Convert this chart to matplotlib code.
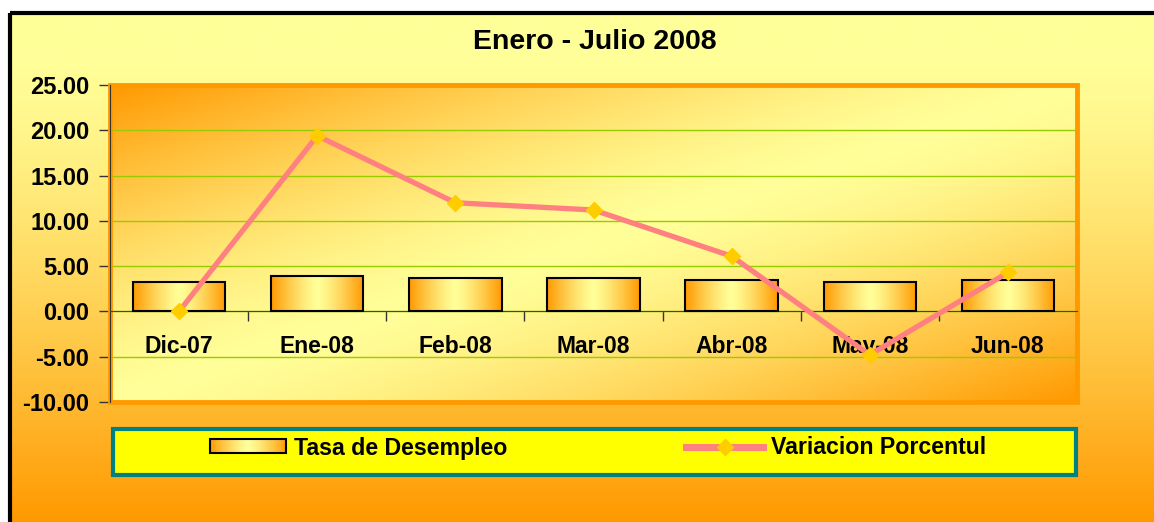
import numpy as np
import matplotlib
matplotlib.use('Agg')
import matplotlib.pyplot as plt
from matplotlib.colors import to_rgb
from matplotlib.patches import Rectangle
from matplotlib.lines import Line2D
from matplotlib.legend_handler import HandlerBase

# datos
meses = ['Dic-07', 'Ene-08', 'Feb-08', 'Mar-08', 'Abr-08', 'May-08', 'Jun-08']
tasa_desempleo = [3.30, 3.95, 3.66, 3.66, 3.48, 3.29, 3.48]
variacion = [0.0, 19.4, 12.0, 11.2, 6.1, -4.8, 4.3]
y_ticks = [-10, -5, 0, 5, 10, 15, 20, 25]

W, H = 1154, 522
YELLOW = np.array(to_rgb('#FFFF99'))
ORANGE = np.array(to_rgb('#FF9900'))

plt.rcParams['font.family'] = ['Liberation Sans', 'DejaVu Sans']
plt.rcParams['font.weight'] = 'bold'


def mix(c):
    # c = 0 -> amarillo, c = 1 -> naranja
    c = np.asarray(c)[..., None]
    return YELLOW * (1 - c) + ORANGE * c


class GradientHandler(HandlerBase):
    def create_artists(self, legend, orig_handle, xdescent, ydescent,
                       width, height, fontsize, trans):
        n = 40
        arts = []
        for i in range(n):
            u = (i + 0.5) / n
            col = mix(abs(2 * u - 1) ** 1.3)
            arts.append(Rectangle((-xdescent + i * width / n, -ydescent), width / n + 0.3, height,
                                  facecolor=col, lw=0, transform=trans))
        arts.append(Rectangle((-xdescent, -ydescent), width, height, fill=False,
                              edgecolor='black', lw=1.5, transform=trans))
        return arts


fig = plt.figure(figsize=(W / 100, H / 100), dpi=100)
fig.patch.set_facecolor('white')

# fondo del grafico
bg = fig.add_axes([0, 0, 1, 1])
yy = np.linspace(0, 1, 300)[:, None]
t = np.clip((yy - 0.08) / 0.92, 0, 1) ** 1.3
bg.imshow(mix(t), extent=[10, W, H, 13], aspect='auto', interpolation='bilinear')
bg.add_patch(Rectangle((10, 13), W, H, fill=False, edgecolor='black', lw=3))
bg.add_patch(Rectangle((113, 429), 963, 46, facecolor='#FFFF00', edgecolor='#008080', lw=3))
bg.set_xlim(0, W)
bg.set_ylim(H, 0)
bg.axis('off')

# area de trazado
ax = fig.add_axes([110 / W, (H - 402) / H, (1077 - 110) / W, (402 - 85) / H])
x = np.arange(len(meses))
xlo, xhi = -0.5, len(meses) - 0.5
ymin, ymax = y_ticks[0], y_ticks[-1]

uu, vv = np.meshgrid(np.linspace(0, 1, 400), np.linspace(0, 1, 200))
s = np.abs((uu + vv) - 1)
ax.imshow(mix(s ** 1.4), extent=[xlo, xhi, ymin, ymax], aspect='auto',
          interpolation='bilinear', zorder=0)

bars = ax.bar(x, tasa_desempleo, width=0.67, facecolor='none', edgecolor='black', lw=1.5, zorder=3)
ub = np.linspace(0, 1, 200)[None, :]
bar_img = mix(np.abs(2 * ub - 1) ** 1.3)
for b in bars:
    ax.imshow(bar_img, extent=[b.get_x(), b.get_x() + b.get_width(), 0, b.get_height()],
              aspect='auto', interpolation='bilinear', zorder=2)

ax.plot(x, variacion, color='#FF8080', lw=3.8, marker='D', ms=8,
        mfc='#FFCC00', mec='#FFCC00', zorder=5, clip_on=False)

ax.set_xlim(xlo, xhi)
ax.set_ylim(ymin, ymax)

ax.set_yticks(y_ticks)
ax.set_yticklabels([f'{v:.2f}' for v in y_ticks])
ax.yaxis.grid(True, color='#99CC00', lw=1)
ax.set_axisbelow(True)
ax.tick_params(axis='y', direction='out', length=8, width=1, color='#333333',
               pad=7, labelsize=17)

ax.set_xticks(np.arange(len(meses) + 1) - 0.5)
ax.set_xticklabels([])
ax.set_xticks(x, minor=True)
ax.set_xticklabels(meses, minor=True)
ax.tick_params(axis='x', which='major', direction='out', length=7, width=1, color='#333333')
ax.tick_params(axis='x', which='minor', length=0, pad=17, labelsize=16.5)

ax.spines['bottom'].set_position(('data', 0))
ax.spines['bottom'].set_color('#444444')
ax.spines['left'].set_color('#333333')
ax.spines['top'].set_visible(False)
ax.spines['right'].set_visible(False)
ax.add_patch(Rectangle((0, 0), 1, 1, transform=ax.transAxes, fill=False,
                       edgecolor='#FF9900', lw=3.5, clip_on=False, zorder=1))

fig.text(595 / W, 1 - 42 / H, 'Enero - Julio 2008', ha='center', va='center',
         fontsize=20.5, fontweight='bold')

h_bar = Rectangle((0, 0), 1, 1)
h_line = Line2D([], [], color='#FF8080', lw=5, marker='D', ms=8, mfc='#FFCC00', mec='#FFCC00')
fig.legend([h_bar, h_line], ['Tasa de Desempleo', 'Variacion Porcentul'],
           handler_map={Rectangle: GradientHandler()},
           loc='center', bbox_to_anchor=(598 / W, 1 - 448 / H), ncol=2, frameon=False,
           fontsize=16.7, handlelength=3.3, handleheight=0.55, handletextpad=0.35,
           columnspacing=7.7, borderpad=0)

fig.savefig('out.png', dpi=100, facecolor=fig.get_facecolor())
